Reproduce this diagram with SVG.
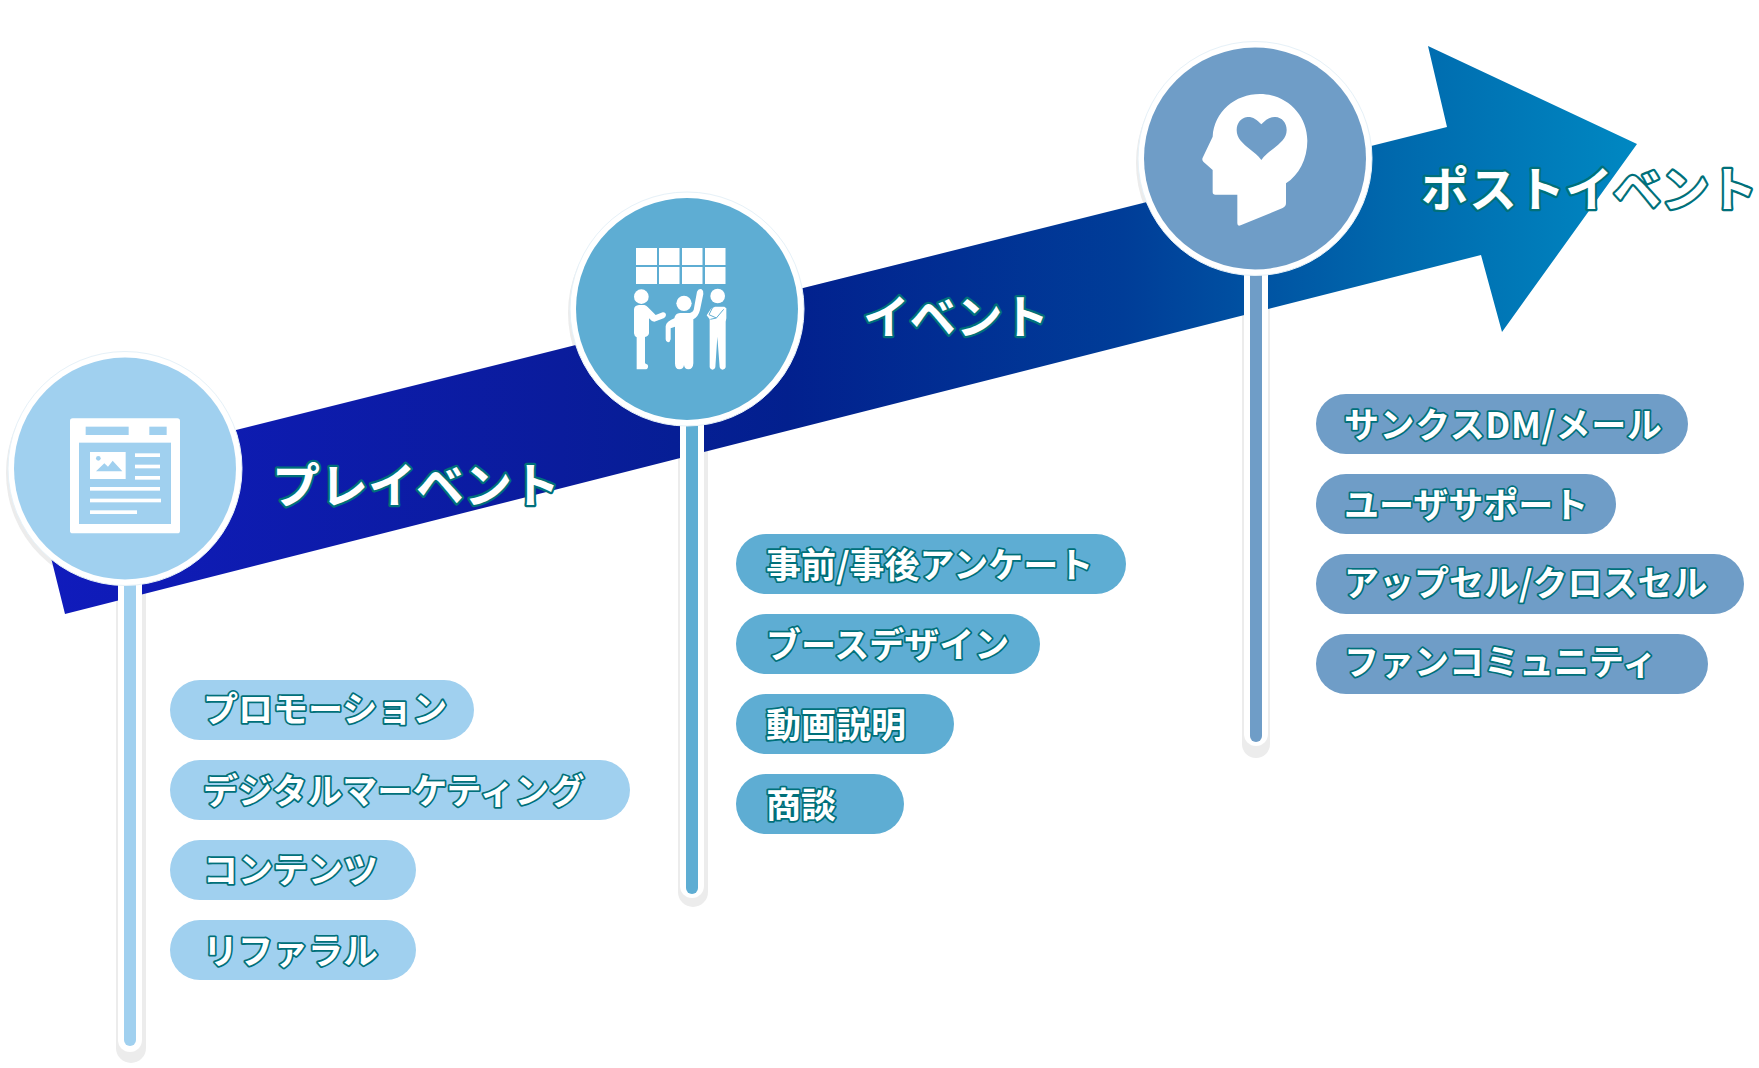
<svg xmlns="http://www.w3.org/2000/svg" width="1759" height="1068" viewBox="0 0 1759 1068">
<defs>
<linearGradient id="arrowGrad" gradientUnits="userSpaceOnUse" x1="34" y1="0" x2="1637" y2="0">
<stop offset="0" stop-color="#101bbd"/>
<stop offset="0.33" stop-color="#0a1c9c"/>
<stop offset="0.47" stop-color="#02208e"/>
<stop offset="0.68" stop-color="#003d98"/>
<stop offset="0.85" stop-color="#0069ad"/>
<stop offset="1" stop-color="#0088c2"/>
</linearGradient>
</defs>
<style>
text{font-family:"Noto Sans CJK JP","Noto Sans",sans-serif;font-weight:700;fill:#fff;stroke:#00707a;paint-order:stroke;stroke-linejoin:round}
.big{font-size:48px;stroke-width:4.500px}
.lbl{font-size:35px;stroke-width:3.500px}
.sh{fill:#ececec}
.wh{fill:#fff}
.ring{fill:#fff;stroke:#e6f1f8;stroke-width:1}
.c1{fill:#a0d0ef}
.c2{fill:#5eadd3}
.c3{fill:#6f9dc7}
</style>
<rect width="1759" height="1068" fill="#fff"/>
<g id="shadows">
<circle class="sh" cx="122" cy="473" r="116"/>
<circle class="sh" cx="684" cy="313" r="116"/>
<circle class="sh" cx="1252" cy="163" r="116"/>
<rect class="sh" x="116" y="560" width="30" height="503" rx="15"/>
<rect class="sh" x="678" y="400" width="30" height="507" rx="15"/>
<rect class="sh" x="1242" y="250" width="28" height="508" rx="14"/>
</g>
<polygon id="timeline-arrow" fill="url(#arrowGrad)" points="32,481 1447,127 1428,46 1637,144 1502,332 1481,255 65,614"/>
<g id="connectors">
<rect class="wh" x="118" y="560" width="24" height="492" rx="12"/>
<rect class="c1" x="124" y="560" width="12" height="486" rx="6"/>
<rect class="wh" x="680" y="400" width="24" height="498" rx="12"/>
<rect class="c2" x="686" y="400" width="12" height="494" rx="6"/>
<rect class="wh" x="1244" y="250" width="24" height="496" rx="12"/>
<rect class="c3" x="1250" y="250" width="12" height="492" rx="6"/>
</g>
<g id="node-preevent">
<circle class="ring" cx="125" cy="468.500" r="117"/>
<circle class="c1" cx="125" cy="468.500" r="111"/>
<g transform="translate(60 410) scale(.33333)">
<rect class="wh" x="30" y="25" width="330" height="345" rx="8"/>
<g class="c1">
<rect x="77" y="50" width="129" height="25"/>
<rect x="268" y="50" width="52" height="25"/>
<rect x="57" y="98" width="276" height="244"/>
</g>
<g class="wh">
<rect x="90" y="126" width="107" height="81"/>
<rect x="225" y="130" width="75" height="11"/>
<rect x="225" y="164" width="75" height="11"/>
<rect x="225" y="198" width="75" height="11"/>
<rect x="90" y="231" width="210" height="11"/>
<rect x="90" y="266" width="213" height="11"/>
<rect x="90" y="301" width="141" height="11"/>
</g>
<g class="c1">
<circle cx="115" cy="145" r="7"/>
<polygon points="108,184 133,160 144,170 158,152 187,184"/>
</g>
</g>
<text class="big" x="272" y="503">プレイベント</text>
</g>
<g id="node-event">
<circle class="ring" cx="687" cy="309" r="117"/>
<circle class="c2" cx="687" cy="309" r="111"/>
<g class="wh">
<rect x="636" y="248" width="21" height="17"/><rect x="659" y="248" width="20.500" height="17"/><rect x="682" y="248" width="20.500" height="17"/><rect x="705" y="248" width="20.500" height="17"/>
<rect x="636" y="267" width="21" height="17"/><rect x="659" y="267" width="20.500" height="17"/><rect x="682" y="267" width="20.500" height="17"/><rect x="705" y="267" width="20.500" height="17"/>
</g>
<g transform="translate(625 280) scale(.33333)">
<g class="wh">
<circle cx="49" cy="50" r="22"/>
<path d="M27 88Q28 76 42 75H58Q64 76 68 81L92 105L113 97Q122 96 123 105Q122 112 116 115L88 125Q80 125 72 115V160Q70 170 60 171V250L68 254Q72 262 64 268H35V172Q28 170 27 160Z"/>
<circle cx="177" cy="70" r="23"/>
<path d="M148 115Q150 100 165 99H195Q204 96 206 90L216 35Q220 25 230 28Q236 32 235 42L225 90Q220 110 205 118V250Q204 268 190 268Q179 268 177 255Q175 268 163 268Q150 268 150 250V140L137 145V178Q135 187 129 187Q122 186 122 178V138Q124 125 148 115Z"/>
<circle cx="278" cy="48" r="22"/>
<path d="M254 118L245 106L258 86L270 80H298L304 85V115L302 125V262Q301 268 293 269Q286 269 284 262L277 170L271 262Q270 268 263 269Q256 269 254 262Z"/>
</g>
<path d="M262 84L252 104L274 114L296 88M274 114L256 118" fill="none" stroke="#5eadd3" stroke-width="3"/>
</g>
<text class="big" style="font-size:46.500px" x="863" y="334">イベント</text>
</g>
<g id="node-postevent">
<circle class="ring" cx="1255" cy="158.500" r="117"/>
<circle class="c3" cx="1255" cy="158.500" r="111"/>
<g transform="translate(1190 80) scale(.33333)">
<path class="wh" d="M68 170C72 95 135 42 210 42C290 42 352 105 352 182C352 238 326 285 288 310V370Q288 380 278 384L152 436Q142 440 142 430V344H76Q68 344 68 336V270L40 245Q35 240 38 233Z"/>
<path class="c3" d="M214 133C200 118 188 110 172 111C152 113 140 130 140 150C140 175 158 190 178 206C192 217 204 226 214 240C224 226 236 217 250 206C270 190 290 175 290 150C290 128 276 112 256 111C240 110 226 120 214 133Z"/>
</g>
<text class="big" x="1421" y="207">ポストイベント</text>
</g>
<g id="items-preevent">
<rect class="c1" x="170" y="680" width="304" height="60" rx="30"/><text class="lbl" x="203" y="722">プロモーション</text>
<rect class="c1" x="170" y="760" width="460" height="60" rx="30"/><text class="lbl" x="203" y="804">デジタルマーケティング</text>
<rect class="c1" x="170" y="840" width="246" height="60" rx="30"/><text class="lbl" x="203" y="883">コンテンツ</text>
<rect class="c1" x="170" y="920" width="246" height="60" rx="30"/><text class="lbl" x="203" y="964">リファラル</text>
</g>
<g id="items-event">
<rect class="c2" x="736" y="534" width="390" height="60" rx="30"/><text class="lbl" x="766" y="578">事前/事後アンケート</text>
<rect class="c2" x="736" y="614" width="304" height="60" rx="30"/><text class="lbl" x="766" y="658">ブースデザイン</text>
<rect class="c2" x="736" y="694" width="218" height="60" rx="30"/><text class="lbl" x="766" y="738">動画説明</text>
<rect class="c2" x="736" y="774" width="168" height="60" rx="30"/><text class="lbl" x="766" y="818">商談</text>
</g>
<g id="items-postevent">
<rect class="c3" x="1316" y="394" width="372" height="60" rx="30"/><text class="lbl" style="letter-spacing:.6px" x="1344" y="438">サンクスDM/メール</text>
<rect class="c3" x="1316" y="474" width="300" height="60" rx="30"/><text class="lbl" x="1344" y="518">ユーザサポート</text>
<rect class="c3" x="1316" y="554" width="428" height="60" rx="30"/><text class="lbl" x="1344" y="596">アップセル/クロスセル</text>
<rect class="c3" x="1316" y="634" width="392" height="60" rx="30"/><text class="lbl" x="1344" y="675">ファンコミュニティ</text>
</g>
</svg>
